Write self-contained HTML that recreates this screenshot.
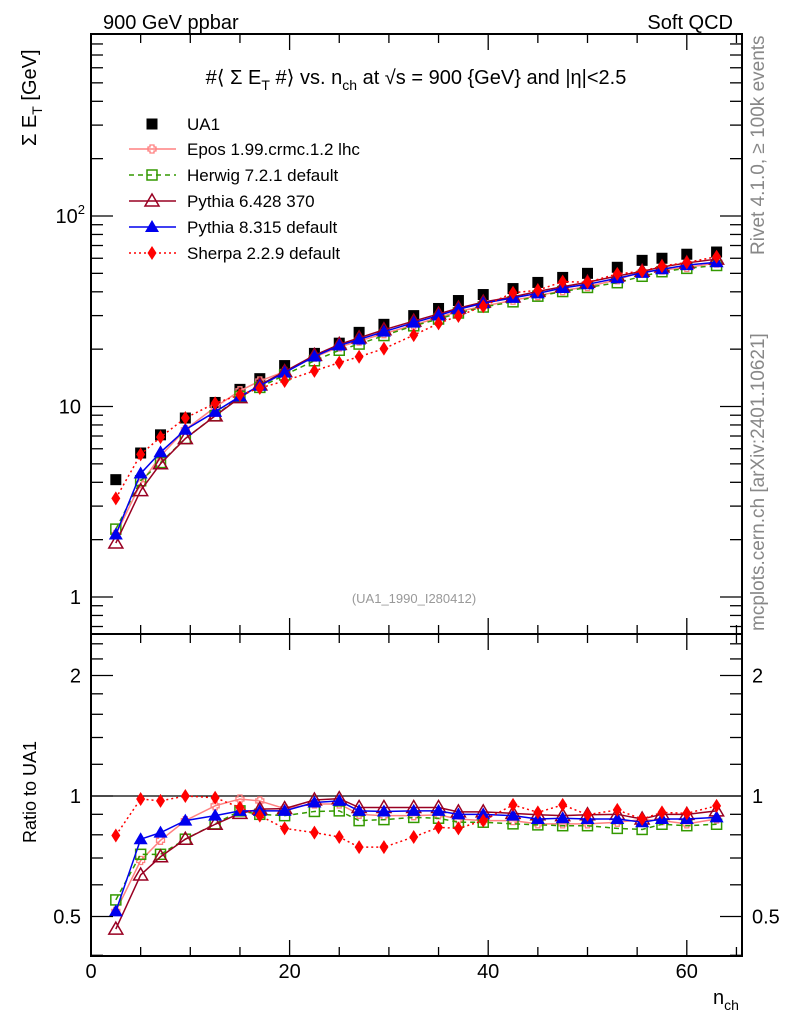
<!DOCTYPE html>
<html><head><meta charset="utf-8"><style>
html,body{margin:0;padding:0;background:#fff;}
svg{display:block;font-family:"Liberation Sans",sans-serif;}
</style></head><body>
<svg id="chart" width="786" height="1024" viewBox="0 0 786 1024" xmlns="http://www.w3.org/2000/svg">
<text x="103" y="29" font-size="20">900 GeV ppbar</text>
<text x="733" y="29" font-size="20" text-anchor="end">Soft QCD</text>
<text x="416" y="84" font-size="20" text-anchor="middle">#⟨ Σ E<tspan font-size="14" dy="6">T</tspan><tspan dy="-6"> #⟩ vs. n</tspan><tspan font-size="14" dy="6">ch</tspan><tspan dy="-6"> at √s = 900 {GeV} and |η|&lt;2.5</tspan></text>
<text transform="translate(36,146) rotate(-90)" font-size="20">Σ E<tspan font-size="14" dy="6">T</tspan><tspan dy="-6"> [GeV]</tspan></text>
<text transform="translate(36,792) rotate(-90)" font-size="18" text-anchor="middle">Ratio to UA1</text>
<text x="713" y="1004" font-size="20">n<tspan font-size="14" dy="6">ch</tspan></text>
<text transform="translate(764,255) rotate(-90)" font-size="19" fill="#888">Rivet 4.1.0, ≥ 100k events</text>
<text transform="translate(764,631) rotate(-90)" font-size="19" fill="#888">mcplots.cern.ch [arXiv:2401.10621]</text>
<text x="414" y="603" font-size="13" fill="#999" text-anchor="middle">(UA1_1990_I280412)</text>
<g id="marks"></g>
<g id="axes"></g>
<g id="legend"></g>
</svg>
<script>
const nch = [2.5,5,7,9.5,12.5,15,17,19.5,22.5,25,27,29.5,32.5,35,37,39.5,42.5,45,47.5,50,53,55.5,57.5,60,63];
const ua1 = [4.13,5.7,7.1,8.7,10.5,12.3,14.0,16.4,19.0,21.5,24.5,27,30,32.7,36,38.7,41.6,44.8,47.6,50,53.8,58.5,60,63,64.7];
const eposRatio = [0.515,0.69,0.775,0.868,0.945,0.983,0.972,0.93,0.955,0.955,0.9,0.893,0.893,0.897,0.876,0.868,0.868,0.852,0.852,0.852,0.86,0.873,0.868,0.852,0.876];
const herwigRatio = [0.55,0.715,0.715,0.78,0.852,0.918,0.9,0.893,0.915,0.918,0.868,0.873,0.884,0.88,0.86,0.86,0.852,0.847,0.843,0.843,0.83,0.825,0.85,0.843,0.85];
const py6Ratio = [0.465,0.635,0.705,0.78,0.85,0.905,0.927,0.93,0.977,0.985,0.936,0.936,0.936,0.936,0.913,0.913,0.905,0.898,0.893,0.898,0.9,0.876,0.9,0.9,0.918];
const py8Ratio = [0.515,0.78,0.81,0.868,0.893,0.918,0.918,0.918,0.963,0.972,0.918,0.915,0.918,0.918,0.9,0.9,0.893,0.876,0.88,0.876,0.876,0.86,0.876,0.876,0.884];
const sherpaRatio = [0.797,0.983,0.972,1.0,0.99,0.936,0.893,0.83,0.81,0.79,0.745,0.745,0.79,0.835,0.83,0.868,0.95,0.91,0.95,0.898,0.923,0.876,0.91,0.905,0.945];
const xTicks = [0,20,40,60];
const yMainTicks = [1,10,100];
const yMainLabels = ["1","10","10²"];
const yRatioTicks = [0.5,1,2];
const yRatioLabels = ["0.5","1","2"];

const NS = "http://www.w3.org/2000/svg";
const L=91, R=742, T=34, M=634, B=956;
const X = v => L + v*9.93;
const YM = v => 597 - Math.log10(v)*190.5;
const YR = v => 796 - Math.log2(v)*120.5;
function mk(tag, attrs, parent){const e=document.createElementNS(NS,tag);for(const k in attrs)e.setAttribute(k,attrs[k]);parent.appendChild(e);return e;}
const marks=document.getElementById('marks'), axes=document.getElementById('axes'), legend=document.getElementById('legend');

function marker(type,color,x,y,parent){
  let e;
  if(type==='sq') e=mk('rect',{x:x-5.5,y:y-5.5,width:11,height:11,fill:'#000'},parent);
  else if(type==='osq') e=mk('rect',{x:x-5,y:y-5,width:10,height:10,fill:'none',stroke:color,'stroke-width':1.5},parent);
  else if(type==='cross') e=mk('path',{d:`M${x-2} ${y-4}h4v2h2v4h-2v2h-4v-2h-2v-4h2z`,fill:'none',stroke:color,'stroke-width':1.3},parent);
  else if(type==='otri') e=mk('path',{d:`M${x} ${y-7}L${x+7} ${y+5}H${x-7}Z`,fill:'none',stroke:color,'stroke-width':1.5},parent);
  else if(type==='tri') e=mk('path',{d:`M${x} ${y-7}L${x+7} ${y+5}H${x-7}Z`,fill:color},parent);
  else e=mk('path',{d:`M${x} ${y-7}L${x+4.5} ${y}L${x} ${y+7}L${x-4.5} ${y}Z`,fill:color},parent);
  return e;
}
const series=[
 {name:'epos',ratio:eposRatio,color:'#ff8080',m:'cross',dash:'',label:'Epos 1.99.crmc.1.2 lhc'},
 {name:'herwig',ratio:herwigRatio,color:'#339900',m:'osq',dash:'5,4',label:'Herwig 7.2.1 default'},
 {name:'pythia6',ratio:py6Ratio,color:'#990022',m:'otri',dash:'',label:'Pythia 6.428 370'},
 {name:'pythia8',ratio:py8Ratio,color:'#0000ee',m:'tri',dash:'',label:'Pythia 8.315 default'},
 {name:'sherpa',ratio:sherpaRatio,color:'#ff0000',m:'dia',dash:'2,3',label:'Sherpa 2.2.9 default'}
];
const ref=mk('line',{x1:L,x2:R,y1:YR(1),y2:YR(1),stroke:'#000','stroke-width':1.2},marks);


nch.forEach((x,i)=>{const e=marker('sq','#000',X(x),YM(ua1[i]),marks);
 
 });
series.forEach(s=>{
  const main=nch.map((x,i)=>[X(x),YM(ua1[i]*s.ratio[i])]);
  const rat=nch.map((x,i)=>[X(x),YR(s.ratio[i])]);
  [[main,'main'],[rat,'ratio']].forEach(([pts,pn])=>{
    const pl=mk('polyline',{points:pts.map(p=>p.join(',')).join(' '),fill:'none',stroke:s.color,'stroke-width':1.5,'stroke-dasharray':s.dash},marks);
    
    
    pts.forEach(p=>{const e=marker(s.m,s.color,p[0],p[1],marks);
      
      });
  });
});
[[T,M],[M,B]].forEach(([t,b],k)=>{
  const f=mk('rect',{x:L,y:t,width:R-L,height:b-t,fill:'none',stroke:'#000','stroke-width':2},axes);
  
  
  for(let v=0;v<=65;v+=5){const big=v%20===0;const len=big?16:9;
    mk('line',{x1:X(v),x2:X(v),y1:b,y2:b-len,stroke:'#000','stroke-width':1.3},axes);
    mk('line',{x1:X(v),x2:X(v),y1:t,y2:t+len,stroke:'#000','stroke-width':1.3},axes);}
});
for(let d=-1;d<=2;d++)for(let m=1;m<=9;m++){const v=m*Math.pow(10,d);const y=YM(v);if(y<T||y>M)continue;
  const len=m===1?22:12;
  mk('line',{x1:L,x2:L+len,y1:y,y2:y,stroke:'#000','stroke-width':1.3},axes);
  mk('line',{x1:R,x2:R-len,y1:y,y2:y,stroke:'#000','stroke-width':1.3},axes);}
yMainTicks.forEach((v,i)=>{const t=mk('text',{x:L-10,y:YM(v)+7,'font-size':20,'text-anchor':'end'},axes);
  if(i===2){t.textContent='10';mk('tspan',{'font-size':13,dy:-9},t).textContent='2';t.setAttribute('x',L-6);}else t.textContent=yMainLabels[i];
  
  });
[0.4,0.5,0.6,0.7,0.8,0.9,1,1.2,1.4,1.6,1.8,2,2.2,2.4].forEach(v=>{const y=YR(v);if(y<M||y>B)return;
  const len=(v===0.5||v===1||v===2)?22:12;
  mk('line',{x1:L,x2:L+len,y1:y,y2:y,stroke:'#000','stroke-width':1.3},axes);
  mk('line',{x1:R,x2:R-len,y1:y,y2:y,stroke:'#000','stroke-width':1.3},axes);});
yRatioTicks.forEach((v,i)=>{[[L-10,'end'],[R+10,'start']].forEach(([x,a])=>{
  const t=mk('text',{x:x,y:YR(v)+7,'font-size':20,'text-anchor':a},axes);t.textContent=yRatioLabels[i];
  
  });});
xTicks.forEach(v=>{const t=mk('text',{x:X(v),y:978,'font-size':20,'text-anchor':'middle'},axes);t.textContent=v;
  
  });
const ly=[124,149,175,201,227,253];
let e=marker('sq','#000',152,ly[0],legend);
let lt=mk('text',{x:187,y:ly[0]+6,'font-size':17},legend);lt.textContent='UA1';


series.forEach((s,i)=>{const y=ly[i+1];
  mk('line',{x1:129,x2:176,y1:y,y2:y,stroke:s.color,'stroke-width':1.5,'stroke-dasharray':s.dash},legend);
  marker(s.m,s.color,152,y,legend);
  const t=mk('text',{x:187,y:y+6,'font-size':17},legend);t.textContent=s.label;
  
  });
</script>
</body></html>
